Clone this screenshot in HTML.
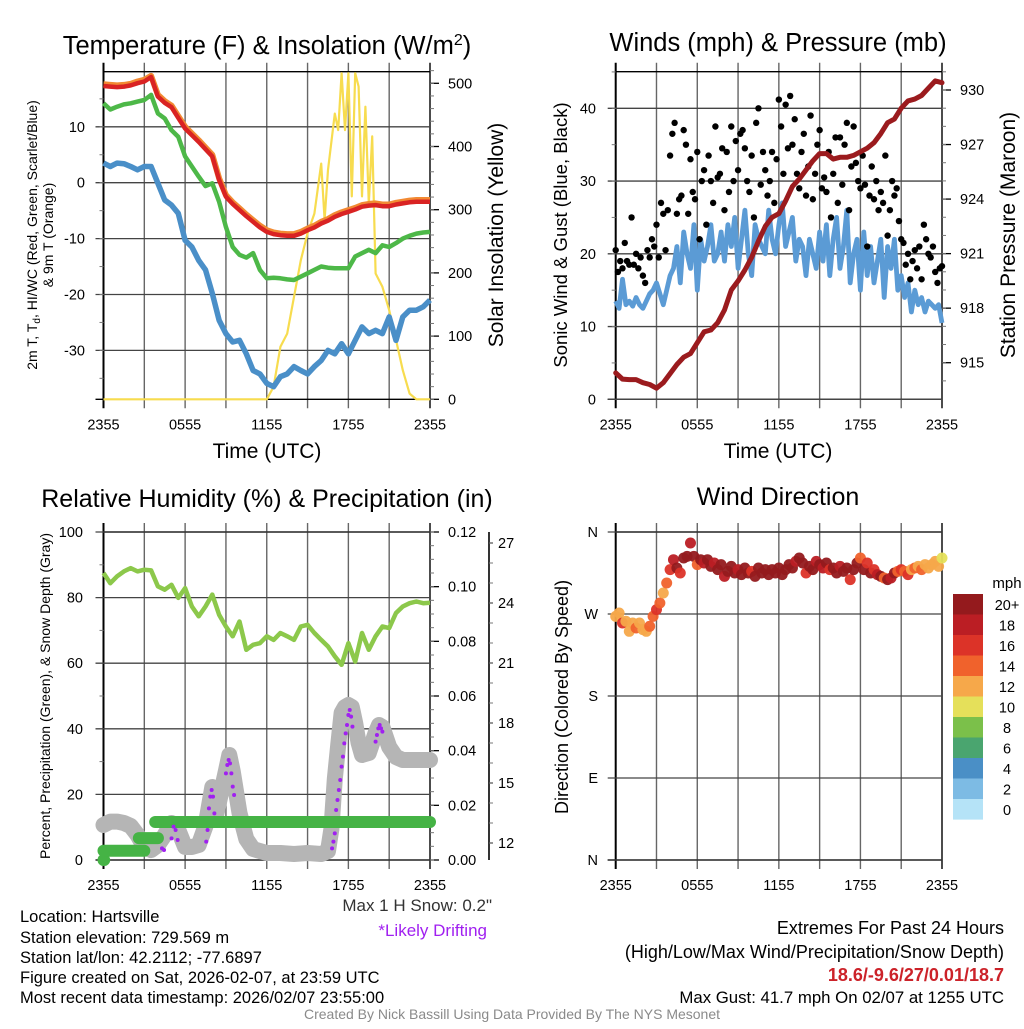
<!DOCTYPE html>
<html><head><meta charset="utf-8"><title>Mesonet Meteogram</title>
<style>
html,body{margin:0;padding:0;background:#fff;}
body{width:1024px;height:1024px;overflow:hidden;font-family:"Liberation Sans",Arial,sans-serif;}
svg text{font-family:"Liberation Sans",Arial,sans-serif;}
</style></head>
<body>
<svg id="fig" xmlns="http://www.w3.org/2000/svg" width="1024" height="1024" viewBox="0 0 1024 1024">
<rect x="0" y="0" width="1024" height="1024" fill="#fff"/>
<g id="layer"></g>
<text x="267" y="54" font-size="25.5" text-anchor="middle">Temperature (F) &amp; Insolation (W/m<tspan dy="-9" font-size="16">2</tspan><tspan dy="9">)</tspan></text>
<text x="778" y="51" font-size="25.5" text-anchor="middle">Winds (mph) &amp; Pressure (mb)</text>
<text x="267" y="507" font-size="25" text-anchor="middle">Relative Humidity (%) &amp; Precipitation (in)</text>
<text x="778" y="505" font-size="25" text-anchor="middle">Wind Direction</text>
<text x="267" y="458" font-size="21" text-anchor="middle">Time (UTC)</text>
<text x="778" y="458" font-size="21" text-anchor="middle">Time (UTC)</text>
<text transform="translate(37,235) rotate(-90)" font-size="14" text-anchor="middle">2m T, T<tspan dy="3" font-size="10">d</tspan><tspan dy="-3">, HI/WC (Red, Green, Scarlet/Blue)</tspan></text>
<text transform="translate(53,235) rotate(-90)" font-size="14" text-anchor="middle">&amp; 9m T (Orange)</text>
<text transform="translate(503,235) rotate(-90)" font-size="21" text-anchor="middle">Solar Insolation (Yellow)</text>
<text transform="translate(567,235) rotate(-90)" font-size="18.5" text-anchor="middle">Sonic Wind &amp; Gust (Blue, Black)</text>
<text transform="translate(1015,235) rotate(-90)" font-size="21" text-anchor="middle">Station Pressure (Maroon)</text>
<text transform="translate(50,696) rotate(-90)" font-size="14" text-anchor="middle">Percent, Precipitation (Green), &amp; Snow Depth (Gray)</text>
<text transform="translate(568,697) rotate(-90)" font-size="18" text-anchor="middle">Direction (Colored By Speed)</text>
<text x="1007" y="588" font-size="15" text-anchor="middle">mph</text>
<text x="492" y="911" font-size="17" text-anchor="end" fill="#333">Max 1 H Snow: 0.2"</text>
<text x="487" y="936" font-size="17" text-anchor="end" fill="#a020f0">*Likely Drifting</text>
<g font-size="16.5">
<text x="20" y="922">Location: Hartsville</text>
<text x="20" y="943">Station elevation: 729.569 m</text>
<text x="20" y="963">Station lat/lon: 42.2112; -77.6897</text>
<text x="20" y="983">Figure created on Sat, 2026-02-07, at 23:59 UTC</text>
<text x="20" y="1003">Most recent data timestamp: 2026/02/07 23:55:00</text>
</g>
<g font-size="18" text-anchor="end">
<text x="1004" y="934">Extremes For Past 24 Hours</text>
<text x="1004" y="958">(High/Low/Max Wind/Precipitation/Snow Depth)</text>
<text x="1004" y="981" fill="#cc2229" font-weight="bold">18.6/-9.6/27/0.01/18.7</text>
<text x="1004" y="1003" font-size="16.8">Max Gust: 41.7 mph On 02/07 at 1255 UTC</text>
</g>
<text x="512" y="1019" font-size="14" text-anchor="middle" fill="#8a8a8a">Created By Nick Bassill Using Data Provided By The NYS Mesonet</text>
</svg>
<script>
// ---------- DATA ----------
const timeLabels = ["2355","0555","1155","1755","2355"];
const halfHours = [0,0.5,1,1.5,2,2.5,3,3.5,4,4.5,5,5.5,6,6.5,7,7.5,8,8.5,9,9.5,10,10.5,11,11.5,12,12.5,13,13.5,14,14.5,15,15.5,16,16.5,17,17.5,18,18.5,19,19.5,20,20.5,21,21.5,22,22.5,23,23.5,24];
const tempRed = [17.3,17.2,17.1,17.2,17.4,17.8,18.1,18.9,15.4,14.3,13.5,11.6,9.7,8.5,7.3,6.0,4.7,0.5,-2.5,-3.8,-4.9,-6.0,-7.0,-8.0,-8.8,-9.2,-9.4,-9.5,-9.5,-9.1,-8.5,-8.0,-7.3,-6.8,-6.1,-5.6,-5.2,-4.8,-4.3,-4.1,-4.0,-4.2,-4.2,-3.9,-3.7,-3.5,-3.4,-3.4,-3.4];
const temp9m = [17.6,17.5,17.4,17.5,17.7,18.1,18.4,19.1,15.7,14.6,13.8,11.9,10.0,8.8,7.6,6.3,5.0,0.8,-2.2,-3.5,-4.6,-5.7,-6.7,-7.7,-8.5,-8.9,-9.1,-9.2,-9.2,-8.8,-8.2,-7.7,-7.0,-6.5,-5.8,-5.3,-4.9,-4.5,-4.0,-3.8,-3.7,-3.9,-3.9,-3.6,-3.4,-3.2,-3.1,-3.1,-3.1];
const dewGreen = [14.2,13.1,13.6,14.0,14.2,14.5,14.8,15.7,12.4,11.5,9.4,8.2,4.7,2.9,1.1,-0.6,-0.1,-3.4,-7.9,-11.5,-12.9,-13.4,-12.6,-15.6,-17.1,-17.0,-17.1,-17.3,-17.4,-16.8,-16.2,-15.6,-15.0,-15.2,-15.3,-15.3,-15.3,-13.2,-12.6,-12.0,-12.6,-11.2,-11.5,-10.8,-10.0,-9.5,-9.1,-8.9,-8.8];
const chillBlue = [3.5,2.9,3.5,3.4,2.9,2.3,2.9,2.9,-0.1,-3.1,-4.0,-5.5,-10.3,-11.5,-13.9,-15.6,-19.8,-24.6,-27.0,-28.5,-28.2,-30.6,-33.6,-34.2,-35.9,-36.5,-34.7,-34.2,-32.9,-33.6,-34.2,-32.9,-31.8,-30.0,-30.6,-28.8,-30.6,-28.2,-25.8,-27.0,-26.4,-27.0,-24.0,-28.2,-24.0,-22.8,-22.8,-22.2,-21.0];
const solarTimes = [0,12,12.5,13,13.5,14,14.5,15,15.5,16,16.25,16.5,17,17.25,17.5,17.75,18,18.25,18.5,18.75,19,19.25,19.5,19.75,20,20.5,21,21.5,22,22.5,23,24];
const solarVals = [0,0,20,83,104,162,220,263,294,373,284,363,452,426,516,426,516,321,516,495,321,463,310,416,199,178,141,94,46,9,0,0];
const pressure = [914.44,914.1,914.07,914.07,913.9,913.8,913.6,913.9,914.4,914.9,915.3,915.5,916.1,916.7,916.8,917.2,917.9,919.0,919.5,920.1,920.8,921.7,922.5,923.0,923.2,923.9,924.7,925.1,925.6,926.1,926.5,926.5,926.2,926.3,926.3,926.4,926.6,926.8,927.1,927.6,928.2,928.4,929.0,929.4,929.5,929.7,930.1,930.5,930.4];
const windSpeed = [13.5,12.5,16.5,13,13.5,12.8,14,13,12.5,13.5,14.5,15,16,14.5,13,15,
17,18,21,16,23,20,18,24,15,22,19,21,24,19,20,23,
19,24,21,25,18,22,26,20,17,24,22,21,20,26,22,20,
24,27,21,23,25,19,22,21,17,22,20,18,23,19,24,17,
22,25,18,21,26,16,20,22,15,23,17,21,16,19,22,14,
21,18,22,15,17,14,16,12,15,13,14,12,13.5,13,12.5,13,10.5];
const gustSpeed = [20.5,17.5,19,18,21.5,19, 18.5,25,18.5,20,18,19.5, 17,16,20.5,19.5,22,21, 24,19.5,27,25.5,20.5,26,
33.5,36.5,38,25.5,27.5,28, 37,35,25.5,33,28.5,27.5, 34,22,30,31.5,24,33.5, 30,27,37.5,30.5,31,34.5,
26,34,28.5,37.5,30,35.5, 31.5,36.5,37,34.5,30,28.5, 33.5,25,38,40,29.5,34, 31.5,28,30,34,27,33,
41.2,37.5,31,40.5,34.5,41.7, 35,38.5,31,29,34,36.5, 28,32,39,27.5,31,35, 37,29,30.5,28.5,34,25,
31,36,27,36,29.5,35, 38,26,32,37.5,32.5,30, 29,33.5,29.5,21,28,32, 27.5,30,26,28.5,27,33.5,
22.5,26,30,28,29,24.5, 22,21.5,18.5,20,16.5,19, 20.5,18,21,16.5,24,22, 20,19.5,21,17.5,16,18, 18.3];
const rhVals = [87.5,84.4,86.5,88,89,88,88.5,88.3,83.4,82.4,83.9,79.9,82.9,77.3,74.3,77.3,80.9,74.8,71.2,68.2,72.7,64.1,65.6,66.1,68.2,67.1,69.2,68.2,67.1,71.2,71.7,69.2,67.1,65.1,62.1,59.5,66.1,60.5,69.2,64.1,68.2,71.2,70.7,75.3,77.3,78.3,78.8,78.3,78.4];
const snowTimes = [0,0.5,1,1.5,2,2.5,3,3.5,4,4.5,5,5.5,6,6.5,7,7.5,8,8.25,9,9.25,9.5,10,10.5,11,12,13,14,15,16,16.5,16.75,17,17.25,17.5,17.75,18,18.25,18.5,18.75,19,19.5,20,20.25,20.5,21,21.5,22,23,24];
const snowDepth = [12.9,13.07,13.07,13.0,12.85,12.4,11.8,11.65,11.9,12.4,13.0,12.65,11.8,11.8,11.9,12.85,14.8,13.3,15.6,16.4,15.6,13.5,12.2,11.7,11.5,11.5,11.45,11.5,11.45,11.6,12.7,15.2,16.9,18.5,18.8,18.9,18.8,18.0,17.0,16.4,16.5,17.5,17.9,17.8,16.8,16.3,16.15,16.15,16.15];
const driftTimes = [4.3,4.45,5.0,5.15,5.3,5.45,7.55,7.65,7.75,7.85,7.95,8.05,8.15,9.0,9.1,9.2,9.3,9.4,9.5,9.6,16.8,16.9,17.0,17.1,17.2,17.3,17.4,17.5,17.6,17.7,17.8,17.9,18.0,18.1,18.2,18.3,20.0,20.1,20.2,20.3,20.4,20.5];
const driftDepth = [11.73,11.65,12.23,12.82,12.65,12.15,12.07,12.65,13.73,14.32,14.65,14.32,13.48,15.48,15.9,16.15,15.98,15.48,14.82,14.4,11.73,12.07,12.48,13.65,14.15,14.65,15.15,15.82,16.32,16.98,17.48,17.9,18.4,18.65,18.32,17.82,17.07,17.4,17.73,17.9,17.73,17.57];
const precipStart = [0,0,2.6,3.8];
const precipEnd = [0.05,3,4.0,24];
const precipVal = [0,0.0034,0.008,0.0139];
const windDir = [267.4,271.1,260.1,262,251,260.1,254.6,260.1,252.8,251,256.5,267.4,274.8,282.1,293.1,304,
318.7,329.6,320.5,315,331.5,333.3,347.9,333.3,324.2,329.6,326,329.6,322.3,326,318.7,324.2,
311.3,316.8,322.3,315,318.7,313.2,320.5,315,316.8,311.3,320.5,315,318.7,313.2,318.7,315,
320.5,313.2,318.7,324.2,320.5,327.8,331.5,326,315,322.3,318.7,327.8,324.2,320.5,326,318.7,
320.5,315,322.3,316.8,320.5,307.7,318.7,326,331.5,318.7,326,315,318.7,313.2,311.3,309.5,
307.7,309.5,315,316.8,318.7,316.8,313.2,318.7,320.5,322.3,318.7,324.2,320.5,324.2,327.8,322.3,331.5];
const cbLabels = ["20+","18","16","14","12","10","8","6","4","2","0"];
const cbColors = ["#941a1d","#bb1e24","#dc3328","#f0622c","#f6a84a","#e5e05a","#7bc04a","#4aa56f","#4a8fc6","#7dbbe4","#b5e3f7"];

// ---------- HELPERS ----------
const NS = "http://www.w3.org/2000/svg";
const layer = document.getElementById("layer");
function mk(tag, attrs, parent){const e=document.createElementNS(NS,tag);for(const k in attrs)e.setAttribute(k,attrs[k]);(parent||layer).appendChild(e);return e;}
function xs(p,t){return p.L + t*(p.R-p.L)/24;}
function lin(v0,y0,v1,y1){return v=>y0+(v-v0)*(y1-y0)/(v1-v0);}
const quarter = i => i*0.25;
const sixth = i => i/6;

const P1 = {L:103.5,R:430,T:71.7,B:399.3};
const P2 = {L:615.7,R:942,T:71.7,B:399.3};
const P3 = {L:103.5,R:430,T:532,B:860};
const P4 = {L:615.7,R:942,T:532,B:860};
const yTemp = lin(0,182.7,10,126.8);
const ySol = lin(0,399.3,500,83.3);
const yWind = lin(0,399.3,40,108.3);
const yPres = lin(930,90,915,362.7);
const yRH = lin(0,860,100,532);
const yPrec = lin(0,860,0.12,532);
const ySnow = lin(12,843,27,543);
const yDir = lin(0,860,360,532);

function frame(p,name,ext){
  for(let k=0;k<=8;k++){
    const x=xs(p,k*3);
    const g=mk("line",{x1:x,x2:x,y1:p.T-ext,y2:p.B+ext,stroke:(k===0||k===8)?"#000":"#666","stroke-width":(k===0)?2:1.4});
    
    
  }
  const r=mk("line",{x1:p.L,x2:p.R,y1:p.T,y2:p.T,stroke:"#000","stroke-width":1.4});
  
  
  const b=mk("line",{x1:p.L-8,x2:p.R,y1:p.B,y2:p.B,stroke:"#000","stroke-width":1.4});
  
  
  timeLabels.forEach((s,i)=>{
    const t=mk("text",{x:xs(p,i*6),y:p.B+30,"font-size":14.5,"text-anchor":"middle"});
    t.textContent=s;
    
    
  });
}
function leftAxis(p,name,vals,labels,minor,yf,lx){
  vals.forEach((v,i)=>{
    const y=yf(v);
    const g=mk("line",{x1:p.L-8,x2:p.R,y1:y,y2:y,stroke:"#444","stroke-width":1.3});
    
    
    const t=mk("text",{x:lx,y:y+5,"font-size":14.5,"text-anchor":"end"});
    t.textContent=labels[i];
    
    
  });
  minor.forEach(v=>{
    const y=yf(v);
    const m=mk("line",{x1:p.L-4,x2:p.L,y1:y,y2:y,stroke:"#777","stroke-width":1});
    
    
  });
}
function rightAxis(ax,name,vals,labels,minor,yf,lx,y0,y1,drawLine,tlen){
  if(drawLine){
    const l=mk("line",{x1:ax,x2:ax,y1:y0,y2:y1,stroke:"#000","stroke-width":1.6});
    
    
  }
  vals.forEach((v,i)=>{
    const y=yf(v);
    const g=mk("line",{x1:ax,x2:ax+tlen,y1:y,y2:y,stroke:"#000","stroke-width":1.3});
    
    
    const t=mk("text",{x:lx,y:y+5,"font-size":14.5});
    t.textContent=labels[i];
    
    
  });
  minor.forEach(v=>{
    const y=yf(v);
    const m=mk("line",{x1:ax,x2:ax+4,y1:y,y2:y,stroke:"#777","stroke-width":1});
    
    
  });
}
function pathD(p,times,vals,yf){return times.map((t,i)=>(i?"L":"M")+xs(p,t).toFixed(1)+","+yf(vals[i]).toFixed(1)).join("");}
function range(a,b,s){const r=[];for(let v=a;v<=b+1e-9;v+=s)r.push(+v.toFixed(4));return r;}

// ---------- PANEL 1 ----------
frame(P1,"temp",9);
leftAxis(P1,"temp",[10,0,-10,-20,-30],["10","0","-10","-20","-30"],range(-35,15,5),yTemp,85);
rightAxis(P1.R,"solar",[0,100,200,300,400,500],["0","100","200","300","400","500"],range(0,520,20),ySol,448,P1.T,P1.B,false,9);
let e;
e=mk("path",{d:pathD(P1,solarTimes,solarVals,ySol),fill:"none",stroke:"#f7dc4f","stroke-width":2.2,"stroke-linejoin":"round"});


e=mk("path",{d:pathD(P1,halfHours,chillBlue,yTemp),fill:"none",stroke:"#4a8fc8","stroke-width":5.5,"stroke-linejoin":"round"});


e=mk("path",{d:pathD(P1,halfHours,dewGreen,yTemp),fill:"none",stroke:"#4db848","stroke-width":4.5,"stroke-linejoin":"round"});


e=mk("path",{d:pathD(P1,halfHours,temp9m,yTemp),fill:"none",stroke:"#f28a33","stroke-width":6,"stroke-linejoin":"round"});


e=mk("path",{d:pathD(P1,halfHours,tempRed,yTemp),fill:"none",stroke:"#d92323","stroke-width":4.5,"stroke-linejoin":"round"});



// ---------- PANEL 2 ----------
frame(P2,"wind",9);
leftAxis(P2,"wind",[0,10,20,30,40],["0","10","20","30","40"],range(5,45,5),yWind,596);
rightAxis(P2.R,"pressure",[915,918,921,924,927,930],["915","918","921","924","927","930"],range(914,931,1),yPres,960,P2.T,P2.B,false,9);
e=mk("path",{d:pathD(P2,windSpeed.map((v,i)=>quarter(i)),windSpeed,yWind),fill:"none",stroke:"#5b9bd5","stroke-width":4.8,"stroke-linejoin":"round"});


gustSpeed.forEach((v,i)=>{
  const c=mk("circle",{cx:xs(P2,sixth(i)),cy:yWind(v),r:3.2,fill:"#000"});
  
  
});
e=mk("path",{d:pathD(P2,halfHours,pressure,yPres),fill:"none",stroke:"#9b1b1e","stroke-width":5,"stroke-linejoin":"round","stroke-linecap":"round"});



// ---------- PANEL 3 ----------
frame(P3,"humidity",9);
leftAxis(P3,"humidity",[0,20,40,60,80,100],["0","20","40","60","80","100"],range(10,90,20),yRH,83);
rightAxis(P3.R,"precip",[0,0.02,0.04,0.06,0.08,0.10,0.12],["0.00","0.02","0.04","0.06","0.08","0.10","0.12"],range(0,0.12,0.005),yPrec,448,P3.T,P3.B,false,9);
rightAxis(489,"snow",[12,15,18,21,24,27],["12","15","18","21","24","27"],range(12,27,1),ySnow,498,P3.T,P3.B,true,4);
e=mk("path",{d:pathD(P3,halfHours,rhVals,yRH),fill:"none",stroke:"#8cc84b","stroke-width":4.5,"stroke-linejoin":"round"});


e=mk("path",{d:pathD(P3,snowTimes,snowDepth,ySnow),fill:"none",stroke:"#b5b5b5","stroke-width":16,"stroke-linejoin":"round","stroke-linecap":"round"});


precipStart.forEach((s,i)=>{
  const l=mk("line",{x1:xs(P3,s),x2:xs(P3,precipEnd[i]),y1:yPrec(precipVal[i]),y2:yPrec(precipVal[i]),stroke:"#45b345","stroke-width":12,"stroke-linecap":"round"});
  
  
});
driftTimes.forEach((t,i)=>{
  const c=mk("circle",{cx:xs(P3,t),cy:ySnow(driftDepth[i]),r:2,fill:"#a020f0"});
  
  
});

// ---------- PANEL 4 ----------
frame(P4,"direction",9);
leftAxis(P4,"direction",[0,90,180,270,360],["N","E","S","W","N"],[],yDir,598);
function speedColor(s){let b=Math.floor(s/2);if(b>10)b=10;if(b<0)b=0;return cbColors[10-b];}
windDir.forEach((d,i)=>{
  const c=mk("circle",{cx:xs(P4,quarter(i)),cy:yDir(d),r:5.5,fill:speedColor(windSpeed[i]),"fill-opacity":0.95});
  
  
});
cbColors.forEach((col,i)=>{
  const r=mk("rect",{x:953,y:594+i*20.5,width:30,height:20.6,fill:col});
  
  
  const t=mk("text",{x:1007,y:594+i*20.5+16,"font-size":14.5,"text-anchor":"middle"});
  t.textContent=cbLabels[i];
  
  
});
</script>
</body></html>
